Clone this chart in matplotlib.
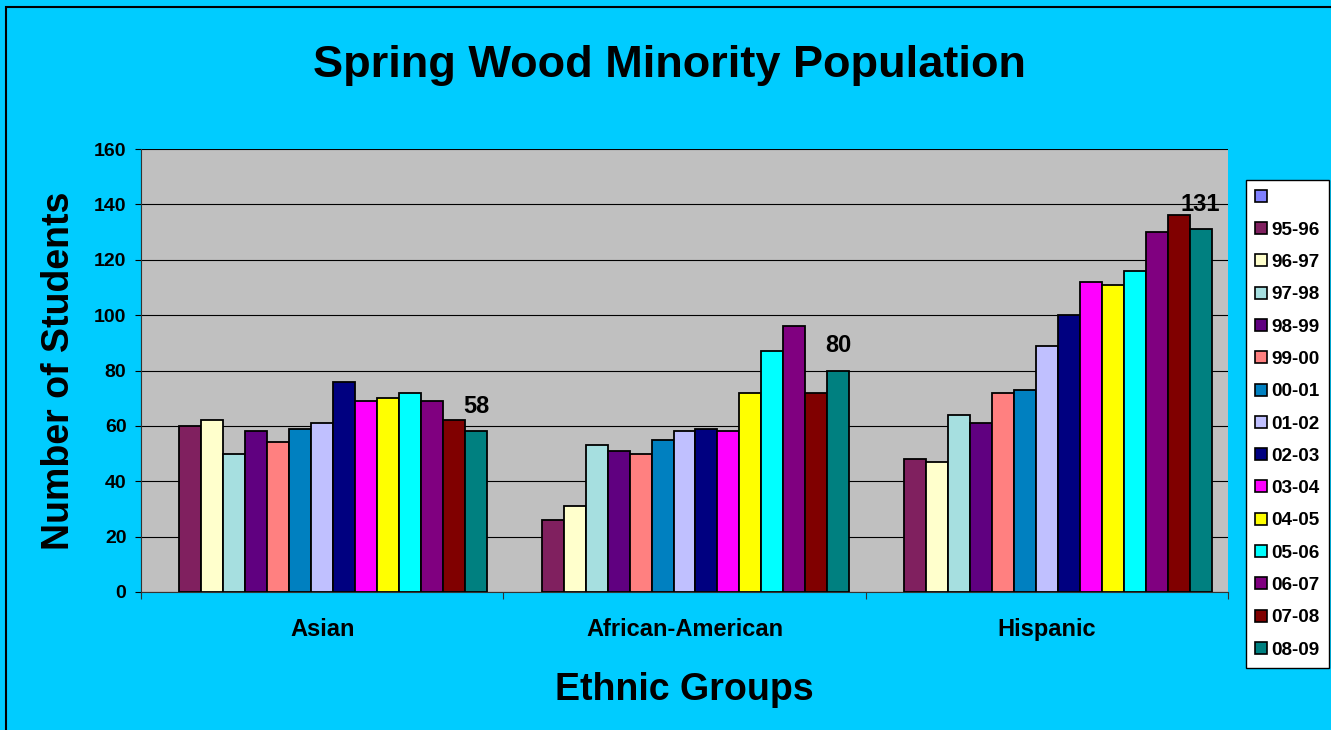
import numpy as np
import matplotlib.pyplot as plt
from matplotlib.patches import Patch, Rectangle

plt.rcParams['font.family'] = ['Liberation Sans', 'DejaVu Sans']
plt.rcParams['font.weight'] = 'bold'

# Data
groups = ["Asian", "African-American", "Hispanic"]
years = ["", "95-96", "96-97", "97-98", "98-99", "99-00", "00-01", "01-02",
         "02-03", "03-04", "04-05", "05-06", "06-07", "07-08", "08-09"]
asian = [None, 60, 62, 50, 58, 54, 59, 61, 76, 69, 70, 72, 69, 62, 58]
african_american = [None, 26, 31, 53, 51, 50, 55, 58, 59, 58, 72, 87, 96, 72, 80]
hispanic = [None, 48, 47, 64, 61, 72, 73, 89, 100, 112, 111, 116, 130, 136, 131]
colors = ["#8080FF", "#80205F", "#FFFFCC", "#A6DFE0", "#600080", "#FF8080",
          "#0080C0", "#C0C0FF", "#000080", "#FF00FF", "#FFFF00", "#00FFFF",
          "#800080", "#800000", "#008080"]

bg = "#00CCFF"
fig = plt.figure(figsize=(13.31, 7.30), dpi=100, facecolor=bg)
ax = fig.add_axes([141/1331, 1-592/730, (1228-141)/1331, (592-149)/730])
ax.set_facecolor("#C0C0C0")

nser = len(years)
w = 1/(nser + 1.5)
x = np.arange(len(groups))
handles = []
for i in range(nser):
    vals = [asian[i], african_american[i], hispanic[i]]
    handles.append(Patch(facecolor=colors[i], edgecolor="black", linewidth=1.2, label=years[i]))
    if vals[0] is None:
        continue
    bars = ax.bar(x + (i - (nser-1)/2)*w, vals, w, color=colors[i],
                  edgecolor="black", linewidth=1.3, zorder=3)
    if i == nser-1:
        for b, v in zip(bars, vals):
            ax.annotate(str(v), (b.get_x()+b.get_width()/2, v), xytext=(0, 18),
                        textcoords="offset points", ha="center", va="center",
                        fontsize=17, fontweight="bold")

ax.set_xlim(-0.5, 2.5)
ax.set_ylim(0, 160)
ax.set_yticks(np.arange(0, 161, 20))
ax.yaxis.grid(True, color="black", linewidth=0.8, zorder=0)
ax.set_axisbelow(True)
ax.set_xticks([-0.5, 0.5, 1.5, 2.5])
ax.set_xticklabels([])
ax.set_xticks(x, minor=True)
ax.set_xticklabels(groups, minor=True, fontsize=17, fontweight="bold")
ax.tick_params(axis="x", which="major", length=5, color="#333333")
ax.tick_params(axis="x", which="minor", length=0, pad=19)
ax.tick_params(axis="y", length=4.5, labelsize=14, pad=6)
for s in ["top", "right"]:
    ax.spines[s].set_visible(False)
for s in ["left", "bottom"]:
    ax.spines[s].set_color("#333333")

ax.set_ylabel("Number of Students", fontsize=27, fontweight="bold", labelpad=12)
ax.set_xlabel("Ethnic Groups", fontsize=27, fontweight="bold", labelpad=22)
fig.text(669/1331, 1-65/730, "Spring Wood Minority Population", ha="center", va="center",
         fontsize=32.5, fontweight="bold")

leg = fig.legend(handles=handles, loc="upper left", bbox_to_anchor=(1246/1331, 1-180/730),
                 fontsize=13.6, frameon=True, fancybox=False, edgecolor="black",
                 framealpha=1, handlelength=0.6, handleheight=0.6, handletextpad=0.25,
                 labelspacing=0.81, borderpad=0.5, borderaxespad=0)
leg.get_frame().set_linewidth(1)
leg.get_frame().set_facecolor("white")

fig.patches.append(Rectangle((6/1331, -0.1), 1.2, 1-7/730+0.1, transform=fig.transFigure,
                             fill=False, edgecolor="black", linewidth=1.5))

fig.savefig("out.png", dpi=100, facecolor=bg)
